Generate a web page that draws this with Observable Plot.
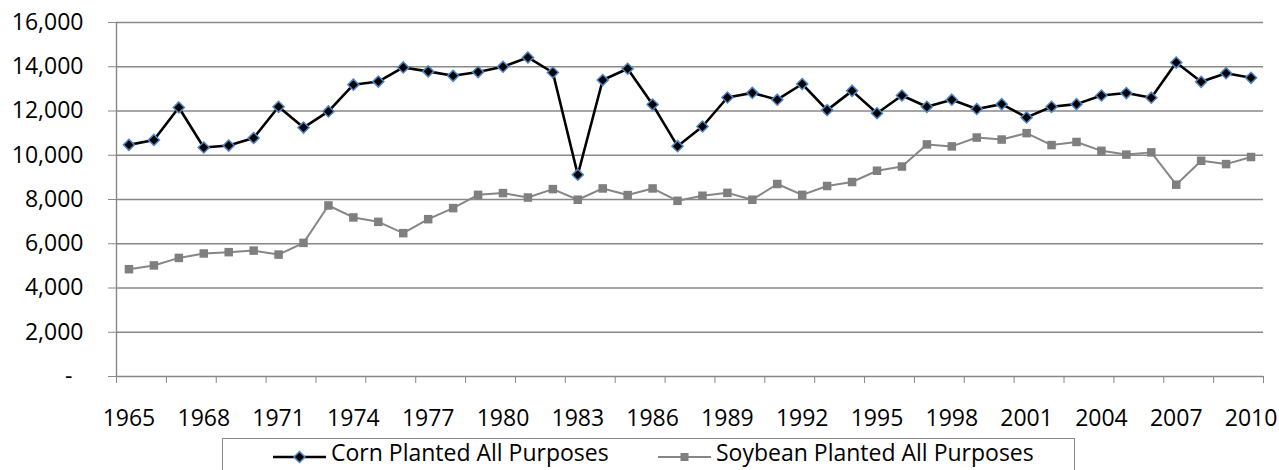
<!DOCTYPE html>
<html>
<head>
<meta charset="utf-8">
<script src="https://cdn.jsdelivr.net/npm/d3@7"></script>
<script src="https://cdn.jsdelivr.net/npm/@observablehq/plot@0.6"></script>
<style>
  html, body { margin: 0; padding: 0; background: #fff; }
  body { position: relative; width: 1279px; height: 470px; overflow: hidden; font-family: "Open Sans", sans-serif; }
  #chart svg { display: block; }
  #legend { position: absolute; left: 222px; top: 438px; width: 853px; height: 50px; border: 1.5px solid #888; box-sizing: border-box; background: #fff; }
  .item { position: absolute; top: 2px; height: 23px; line-height: 23px; display: flex; align-items: flex-start; font-size: 23px; color: #000; white-space: nowrap; }
  .item svg { display: block; margin-right: 5px; margin-top: 8px; }
</style>
</head>
<body>
<div id="chart"></div>
<div id="legend">
  <div class="item" style="left:50px">
    <svg width="53" height="16" viewBox="0 0 53 16"><line x1="0" y1="8" x2="53" y2="8" stroke="#000" stroke-width="2.5"/><path d="M26.5,2.5L32,8L26.5,13.5L21,8Z" fill="#000" stroke="#4f86c6" stroke-width="1.5"/></svg>
    <span id="lab0"></span>
  </div>
  <div class="item" style="left:435px">
    <svg width="53" height="16" viewBox="0 0 53 16"><line x1="0" y1="8" x2="53" y2="8" stroke="#868686" stroke-width="2"/><rect x="22.5" y="4" width="8" height="8" fill="#7f7f7f"/></svg>
    <span id="lab1"></span>
  </div>
</div>
<script>
const seriesNames = ["Corn Planted All Purposes", "Soybean Planted All Purposes"];
const years = d3.range(1965, 2011);
const corn = [10470, 10690, 12160, 10350, 10440, 10780, 12190, 11250, 11980, 13190,
              13330, 13970, 13790, 13590, 13760, 14000, 14420, 13740, 9120, 13400,
              13910, 12290, 10410, 11300, 12610, 12820, 12510, 13220, 12040, 12910,
              11900, 12700, 12190, 12510, 12090, 12310, 11710, 12190, 12310, 12700,
              12810, 12600, 14190, 13320, 13710, 13500];
const soybean = [4850, 5020, 5360, 5560, 5620, 5690, 5510, 6040, 7730, 7190,
                 6990, 6480, 7110, 7610, 8210, 8290, 8090, 8470, 7990, 8500,
                 8200, 8500, 7940, 8170, 8300, 7990, 8700, 8210, 8610, 8790,
                 9300, 9490, 10490, 10400, 10800, 10710, 11000, 10460, 10600, 10200,
                 10030, 10130, 8670, 9750, 9600, 9920];
const yTicks = [0, 2000, 4000, 6000, 8000, 10000, 12000, 14000, 16000];
const xLabelYears = [1965, 1968, 1971, 1974, 1977, 1980, 1983, 1986, 1989, 1992, 1995, 1998, 2001, 2004, 2007, 2010];

document.getElementById("lab0").textContent = seriesNames[0];
document.getElementById("lab1").textContent = seriesNames[1];

const cornData = years.map((y, i) => ({year: y, value: corn[i]}));
const soyData = years.map((y, i) => ({year: y, value: soybean[i]}));
const tickMarks = d3.range(1964.5, 2011, 2);
const fmt = d3.format(",");

const chart = Plot.plot({
  width: 1279,
  height: 437,
  marginLeft: 116,
  marginRight: 16,
  marginTop: 22,
  marginBottom: 61,
  style: {fontFamily: "Open Sans", fontSize: "23px", color: "#000", background: "#fff", overflow: "visible"},
  x: {type: "linear", domain: [1964.5, 2010.5]},
  y: {domain: [0, 16000]},
  marks: [
    Plot.ruleY(yTicks.filter(d => d > 0), {stroke: "#888", strokeWidth: 1.4}),
    Plot.ruleY([0], {stroke: "#888", strokeWidth: 1.4}),
    Plot.ruleX([1964.5], {stroke: "#888", strokeWidth: 1.4}),
    Plot.axisY(yTicks.filter(d => d > 0), {tickSize: 8, tickPadding: 25, stroke: "#888", fill: "#000", tickFormat: fmt, label: null}),
    Plot.axisY([0], {tickSize: 8, tickPadding: 36, stroke: "#888", fill: "#000", tickFormat: () => "-", label: null}),
    Plot.axisX(tickMarks, {tickSize: 7, stroke: "#888", tickFormat: () => "", label: null}),
    Plot.axisX(xLabelYears, {tickSize: 0, tickPadding: 33, fill: "#000", tickFormat: d => String(d), label: null}),
    Plot.line(soyData, {x: "year", y: "value", stroke: "#868686", strokeWidth: 2}),
    Plot.dot(soyData, {x: "year", y: "value", symbol: "square", r: 4.8, fill: "#7f7f7f", stroke: "none"}),
    Plot.line(cornData, {x: "year", y: "value", stroke: "#000", strokeWidth: 2.6}),
    Plot.dot(cornData, {x: "year", y: "value", symbol: "diamond2", r: 5, fill: "#000", stroke: "#4f86c6", strokeWidth: 1.5})
  ]
});
document.getElementById("chart").appendChild(chart);
</script>
</body>
</html>
